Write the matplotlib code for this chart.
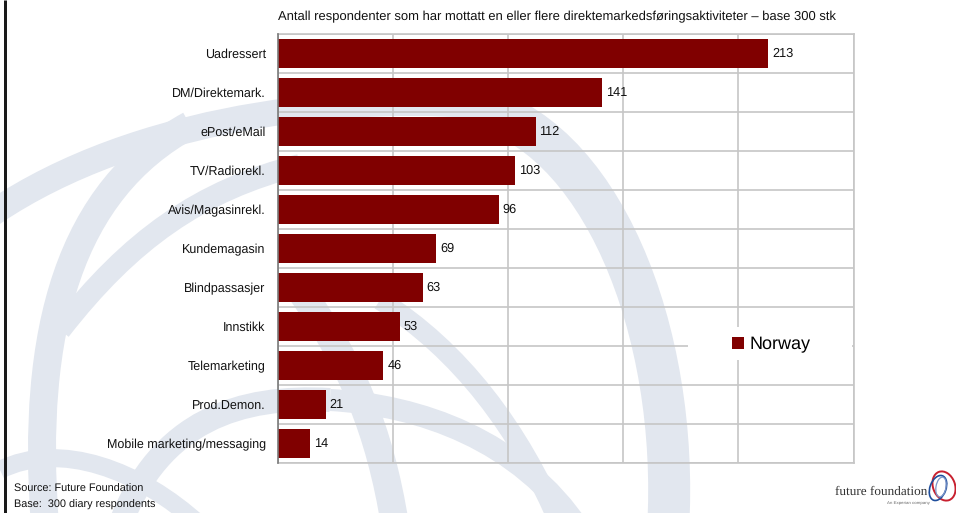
import numpy as np
import matplotlib
matplotlib.use("Agg")
import matplotlib.pyplot as plt
from matplotlib.path import Path
from matplotlib.patches import PathPatch, Rectangle, Ellipse, Patch

plt.rcParams['font.family'] = ['Liberation Sans', 'DejaVu Sans']
plt.rcParams['text.hinting'] = 'no_hinting'

# ---- data ----
categories = [
    "Uadressert", "DM/Direktemark.", "ePost/eMail", "TV/Radiorekl.",
    "Avis/Magasinrekl.", "Kundemagasin", "Blindpassasjer", "Innstikk",
    "Telemarketing", "Prod.Demon.", "Mobile marketing/messaging",
]
values = [213, 141, 112, 103, 96, 69, 63, 53, 46, 21, 14]
series_name = "Norway"
title = ("Antall respondenter som har mottatt en eller flere "
         "direktemarkedsføringsaktiviteter – base 300 stk")
x_ticks = [0, 50, 100, 150, 200, 250]

BAR = "#800000"
GRID = "#c6c6c6"
WATERMARK = "#e2e7ef"

W, H = 956, 513
fig = plt.figure(figsize=(W / 100, H / 100), dpi=100)
fig.patch.set_facecolor("white")

# ---- background layer in pixel coordinates (origin top-left) ----
bg = fig.add_axes([0, 0, 1, 1], zorder=0)
bg.set_xlim(0, W)
bg.set_ylim(H, 0)
bg.axis("off")


def band(p0, c1, c2, p3, width_px):
    path = Path([p0, c1, c2, p3],
                [Path.MOVETO, Path.CURVE4, Path.CURVE4, Path.CURVE4])
    bg.add_patch(PathPatch(path, facecolor="none", edgecolor=WATERMARK,
                           lw=width_px * 0.72, capstyle="butt"))


# watermark swirl
band((-20, 222), (120, 120), (330, 95), (470, 105), 26)
band((470, 105), (600, 130), (680, 330), (668, 530), 42)
band((45, 525), (30, 330), (70, 190), (190, 125), 28)
band((60, 330), (130, 240), (200, 190), (300, 165), 22)
band((120, 525), (160, 420), (240, 395), (330, 400), 24)
band((330, 400), (420, 405), (520, 440), (580, 530), 22)
band((300, 290), (350, 360), (380, 430), (395, 525), 28)
band((380, 300), (460, 350), (520, 430), (560, 525), 20)
band((0, 470), (60, 440), (140, 470), (200, 525), 18)

# dark rule on the left edge
bg.plot([5, 5], [0, H], color="#1a1a1a", lw=3 * 0.72, solid_capstyle="butt")

# ---- main chart ----
x0, x1 = 277.5, 853.5
y0, y1 = 34, 463
ax = fig.add_axes([x0 / W, 1 - y1 / H, (x1 - x0) / W, (y1 - y0) / H], zorder=1)
ax.patch.set_alpha(0)

n = len(categories)
ypos = np.arange(n)
ax.barh(ypos, values, height=0.72, color=BAR, zorder=3)
for y, v in zip(ypos, values):
    ax.text(v + 1.7, y, str(v), va="center", ha="left", fontsize=9.2,
            color="#111111", zorder=4)

ax.set_xlim(x_ticks[0], x_ticks[-1])
ax.set_ylim(n - 0.5, -0.5)
ax.set_xticks(x_ticks)
ax.set_xticklabels([])
ax.set_yticks(ypos)
ax.set_yticklabels(categories, fontsize=9, color="#111111")
ax.set_yticks(np.arange(-0.5, n), minor=True)
ax.tick_params(axis="both", which="both", length=0)
ax.tick_params(axis="y", which="major", pad=8.5)
ax.grid(axis="x", which="major", color=GRID, lw=1.2)
ax.grid(axis="y", which="minor", color=GRID, lw=1.2)
ax.set_axisbelow(True)
for side in ("top", "right", "bottom"):
    ax.spines[side].set_color(GRID)
    ax.spines[side].set_linewidth(1.2)
ax.spines["left"].set_color("#7a7a7a")
ax.spines["left"].set_linewidth(1.2)
ax.spines["left"].set_zorder(5)

# legend on a white panel
ax.add_patch(Rectangle((688 / W, 1 - 360 / H), (852 - 688) / W, 33 / H,
                       transform=fig.transFigure, facecolor="white",
                       edgecolor="none", zorder=2, clip_on=False))
leg = ax.legend(handles=[Patch(facecolor=BAR, label=series_name)],
                loc="center left", bbox_to_anchor=(732 / W, 1 - 345 / H),
                bbox_transform=fig.transFigure, frameon=False, fontsize=13,
                handlelength=0.66, handleheight=0.66, handletextpad=0.3,
                borderpad=0, borderaxespad=0)
leg.set_zorder(6)

# title and source notes
fig.text(278 / W, 1 - 17 / H, title, ha="left", va="center", fontsize=9.33,
         color="#111111")
fig.text(14 / W, 1 - 489 / H, "Source: Future Foundation", ha="left",
         va="center", fontsize=7.8, color="#111111")
fig.text(14 / W, 1 - 505 / H, "Base:  300 diary respondents", ha="left",
         va="center", fontsize=7.8, color="#111111")

# brand mark
fig.text(927 / W, 1 - 492 / H, "future foundation", ha="right", va="center",
         fontsize=9.5, color="#333333", family=["Liberation Serif", "DejaVu Serif"])
fig.text(930 / W, 1 - 503 / H, "An Experian company", ha="right",
         va="center", fontsize=3.2, color="#666666")
bg.add_patch(Ellipse((944, 486), 22, 30, angle=-20, facecolor="none",
                     edgecolor="#c8202f", lw=1.4))
bg.add_patch(Ellipse((938, 488), 16, 26, angle=20, facecolor="none",
                     edgecolor="#1f4e9c", lw=1.2))
bg.add_patch(Ellipse((941, 487), 10, 20, angle=10, facecolor="none",
                     edgecolor="#7b95c9", lw=0.9))

fig.savefig("out.png", dpi=100)
